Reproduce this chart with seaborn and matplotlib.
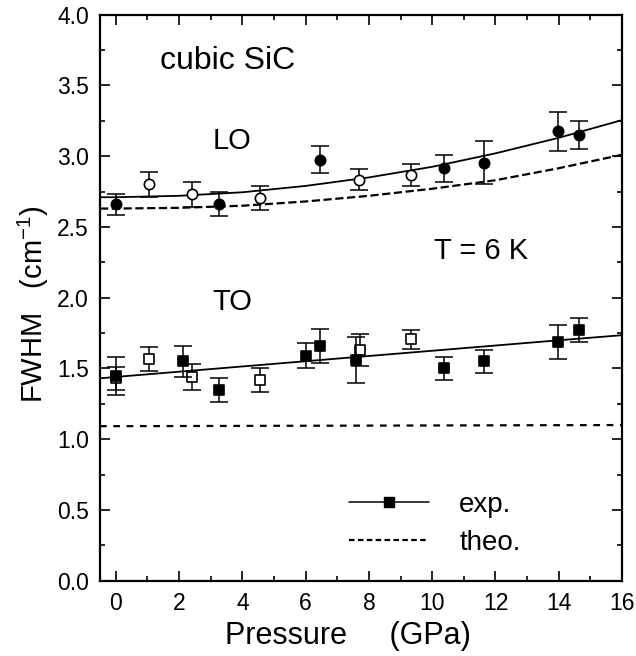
import numpy as np
import pandas as pd
import matplotlib
matplotlib.use("Agg")
import matplotlib.pyplot as plt
from matplotlib.lines import Line2D
from matplotlib.ticker import MultipleLocator
import seaborn as sns

# LO phonon, measured (filled = run 1, open = run 2)
lo_fill_p = [0.0, 3.25, 6.44, 10.36, 11.63, 13.98, 14.63]
lo_fill_w = [2.66, 2.665, 2.975, 2.915, 2.955, 3.175, 3.15]
lo_fill_e = [0.075, 0.085, 0.095, 0.095, 0.155, 0.135, 0.10]
lo_open_p = [1.05, 2.42, 4.55, 7.70, 9.34]
lo_open_w = [2.80, 2.73, 2.705, 2.835, 2.865]
lo_open_e = [0.085, 0.09, 0.085, 0.075, 0.078]

# TO phonon, measured
to_fill_p = [0.0, 2.13, 3.25, 6.02, 6.45, 7.59, 10.36, 11.63, 13.98, 14.63]
to_fill_w = [1.445, 1.55, 1.345, 1.59, 1.66, 1.56, 1.50, 1.55, 1.69, 1.77]
to_fill_e = [0.135, 0.11, 0.085, 0.09, 0.12, 0.16, 0.08, 0.08, 0.12, 0.085]
to_open_p = [0.0, 1.05, 2.42, 4.55, 7.71, 9.34]
to_open_w = [1.43, 1.565, 1.44, 1.42, 1.63, 1.705]
to_open_e = [0.08, 0.085, 0.09, 0.085, 0.11, 0.07]

# fit curves (solid) and theory (dashed)
curve_p = [-0.5, 0, 2, 4, 6, 8, 10, 12, 14, 16]
lo_fit = [2.71, 2.71, 2.72, 2.745, 2.79, 2.85, 2.925, 3.02, 3.13, 3.255]
lo_theo = [2.63, 2.63, 2.635, 2.65, 2.68, 2.72, 2.77, 2.83, 2.915, 3.01]
to_fit = [1.43, 1.44, 1.477, 1.514, 1.551, 1.588, 1.625, 1.662, 1.699, 1.735]
to_theo = [1.092, 1.092, 1.093, 1.094, 1.095, 1.096, 1.097, 1.098, 1.099, 1.10]

sns.set_theme(style="ticks")
plt.rcParams['font.family'] = ['Liberation Sans', 'DejaVu Sans']
plt.rcParams['mathtext.default'] = 'regular'
plt.rcParams['text.color'] = 'black'
plt.rcParams['axes.labelcolor'] = 'black'

fig = plt.figure(figsize=(6.36, 6.56), dpi=100)
ax = fig.add_axes([0.1572, 0.1148, 0.8208, 0.8628])

curves = pd.DataFrame({'p': curve_p, 'lo_fit': lo_fit, 'lo_theo': lo_theo,
                       'to_fit': to_fit, 'to_theo': to_theo})
for col, ls in [('lo_fit', '-'), ('to_fit', '-'), ('lo_theo', '--'), ('to_theo', '--')]:
    sns.lineplot(data=curves, x='p', y=col, ax=ax, color='black',
                 linewidth=1.3 if ls == '-' else 1.6,
                 linestyle=ls, dashes=(4, 2.5) if ls == '--' else None)
# tighter dashes for TO theory line
ax.lines[3].set_dashes((3, 3))

def errs(p, w, e, marker, filled, z):
    ax.errorbar(p, w, yerr=e, fmt='none', ecolor='black', elinewidth=1.1,
                capsize=6.5, capthick=1.1, zorder=z)
    sns.scatterplot(x=p, y=w, ax=ax, marker=marker, s=55 if marker == 'o' else 50,
                    color='black' if filled else 'white', edgecolor='black',
                    linewidth=1.2, zorder=z + 1)

errs(lo_open_p, lo_open_w, lo_open_e, 'o', False, 3)
errs(to_open_p, to_open_w, to_open_e, 's', False, 3)
errs(lo_fill_p, lo_fill_w, lo_fill_e, 'o', True, 5)
errs(to_fill_p, to_fill_w, to_fill_e, 's', True, 5)

ax.set_xlim(-0.5, 16)
ax.set_ylim(0, 4)
ax.xaxis.set_major_locator(MultipleLocator(2))
ax.xaxis.set_minor_locator(MultipleLocator(1))
ax.yaxis.set_major_locator(MultipleLocator(0.5))
ax.yaxis.set_minor_locator(MultipleLocator(0.25))
ax.yaxis.set_major_formatter(matplotlib.ticker.FormatStrFormatter('%.1f'))
ax.tick_params(which='both', direction='in', top=True, right=True,
               width=1.2, colors='black', labelsize=16.5)
ax.tick_params(which='major', length=7)
ax.tick_params(which='minor', length=3.5)
ax.tick_params(axis='x', pad=8)
ax.tick_params(axis='y', pad=8)
for s in ax.spines.values():
    s.set_linewidth(1.6)
    s.set_color('black')

ax.set_xlabel('')
ax.set_ylabel('')
fig.text(0.547, 0.030, 'Pressure     (GPa)', fontsize=22, ha='center', va='center')
fig.text(0.052, 0.537, 'FWHM   (cm$^{-1}$)', fontsize=21, ha='center', va='center',
         rotation=90)

ax.text(1.4, 3.67, 'cubic SiC', fontsize=23, va='center')
ax.text(3.05, 3.11, 'LO', fontsize=21, va='center')
ax.text(3.05, 1.97, 'TO', fontsize=21, va='center')
ax.text(10.05, 2.33, 'T = 6 K', fontsize=21, va='center')

handles = [Line2D([], [], color='black', linewidth=1.1, marker='s', markersize=7),
           Line2D([], [], color='black', linewidth=1.6, linestyle=(0, (2.5, 1.5)))]
ax.legend(handles, ['exp.', 'theo.'], loc='lower left', bbox_to_anchor=(0.43, 0.0),
          frameon=False, fontsize=20, numpoints=1, handlelength=2.85,
          handletextpad=1.1, labelspacing=0.42)

fig.savefig('out.png', dpi=100, facecolor='white')
